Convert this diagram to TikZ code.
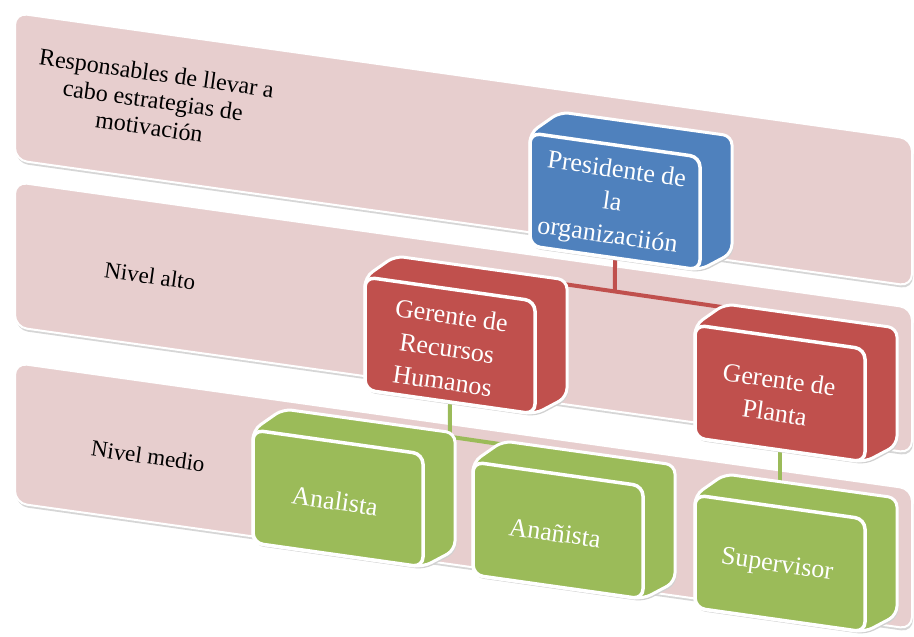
\documentclass[tikz,border=0pt]{standalone}
\usepackage{fontspec}
\setmainfont{Liberation Serif}
\usetikzlibrary{calc}
\definecolor{bandpink}{RGB}{231,206,206}
\definecolor{cblue}{RGB}{79,129,189}
\definecolor{cred}{RGB}{192,80,77}
\definecolor{cgreen}{RGB}{155,187,89}

% anchors of a perspective box whose front face has its top-left corner at (#2,#3)
\newcommand\cubeanchors[3]{%
  \coordinate (#1-tb) at ({#2+116},{#3-5});
  \coordinate (#1-bot) at ({#2+85},{#3+125});
}
% name, colour, x, y, text
\newcommand\cubebox[5]{%
  \fill[black!18, rounded corners=9pt, shift={(1.5,2.5)}]
    (#3,#4) -- ({#3+30},{#4-21}) -- ({#3+202},{#4+3}) -- ({#3+202},{#4+120})
    -- ({#3+170},{#4+137}) -- (#3,{#4+113}) -- cycle;
  \path[cubeout, fill=#2]
    (#3,#4) -- ({#3+30},{#4-21}) -- ({#3+202},{#4+3}) -- ({#3+202},{#4+120})
    -- ({#3+170},{#4+137}) -- (#3,{#4+113}) -- cycle;
  \path[cubefront, fill=#2]
    (#3,#4) -- ({#3+170},{#4+24}) -- ({#3+170},{#4+137}) -- (#3,{#4+113}) -- cycle;
  \node[boxtext] (#1) at ({#3+82},{#4+71}) {#5};
}

\begin{document}
\begin{tikzpicture}[x=1pt,y=-1pt,
  bandshape/.style={fill=bandpink, draw=white, line width=2pt, rounded corners=12pt},
  bandshadow/.style={fill=black!16, rounded corners=12pt},
  cubeout/.style={draw=white, line width=3pt, rounded corners=9pt},
  cubefront/.style={draw=white, line width=3.5pt, rounded corners=10pt},
  link/.style={line width=4pt},
  lvl/.style={font=\fontsize{23}{27}\selectfont, align=center, rotate=-8, text=black},
  boxtext/.style={font=\fontsize{26}{33}\selectfont, align=center, rotate=-8, text=white}]

\useasboundingbox (0,0) rectangle (914,637);
\fill[white] (0,0) rectangle (914,637);

% bands
\fill[bandshadow, shift={(1,3)}] (15,13) -- (912,139) -- (912,286) -- (15,160) -- cycle;
\path[bandshape] (15,13) -- (912,139) -- (912,286) -- (15,160) -- cycle;
\fill[bandshadow, shift={(1,3)}] (15,182) -- (912,308) -- (912,453) -- (15,327) -- cycle;
\path[bandshape] (15,182) -- (912,308) -- (912,453) -- (15,327) -- cycle;
\fill[bandshadow, shift={(1,3)}] (15,363) -- (912,489) -- (912,629) -- (15,503) -- cycle;
\path[bandshape] (15,363) -- (912,489) -- (912,629) -- (15,503) -- cycle;

% level labels
\node[lvl, font=\fontsize{24}{27}\selectfont] (l1) at (153,100) {Responsables de llevar a\\cabo estrategias de\\motivación};
\node[lvl] (l2) at (150,276) {Nivel alto};
\node[lvl] (l3) at (148,456) {Nivel medio};

% anchors
\cubeanchors{pres}{530}{133}
\cubeanchors{rrhh}{365}{277}
\cubeanchors{planta}{695}{325}
\cubeanchors{anal}{253}{430}
\cubeanchors{anan}{473}{462}
\cubeanchors{sup}{695}{495}

% connectors
\coordinate (j1) at ($(rrhh-tb)!0.406!(planta-tb)$);
\draw[link, cred] (rrhh-tb) -- (planta-tb);
\draw[link, cred] (pres-bot) -- (j1);
\coordinate (j2) at ($(anal-tb)!0.368!(anan-tb)$);
\draw[link, cgreen] (anal-tb) -- (anan-tb);
\draw[link, cgreen] (rrhh-bot) -- (j2);
\draw[link, cgreen] (planta-bot) -- (planta-bot |- sup-tb);

% boxes
\cubebox{presn}{cblue}{530}{133}{Presidente de\\la\\organizaciión}
\cubebox{rrhhn}{cred}{365}{277}{Gerente de\\Recursos\\Humanos}
\cubebox{plantan}{cred}{695}{325}{Gerente de\\Planta}
\cubebox{analn}{cgreen}{253}{430}{Analista}
\cubebox{anann}{cgreen}{473}{462}{Anañista}
\cubebox{supn}{cgreen}{695}{495}{Supervisor}

\end{tikzpicture}
\end{document}
